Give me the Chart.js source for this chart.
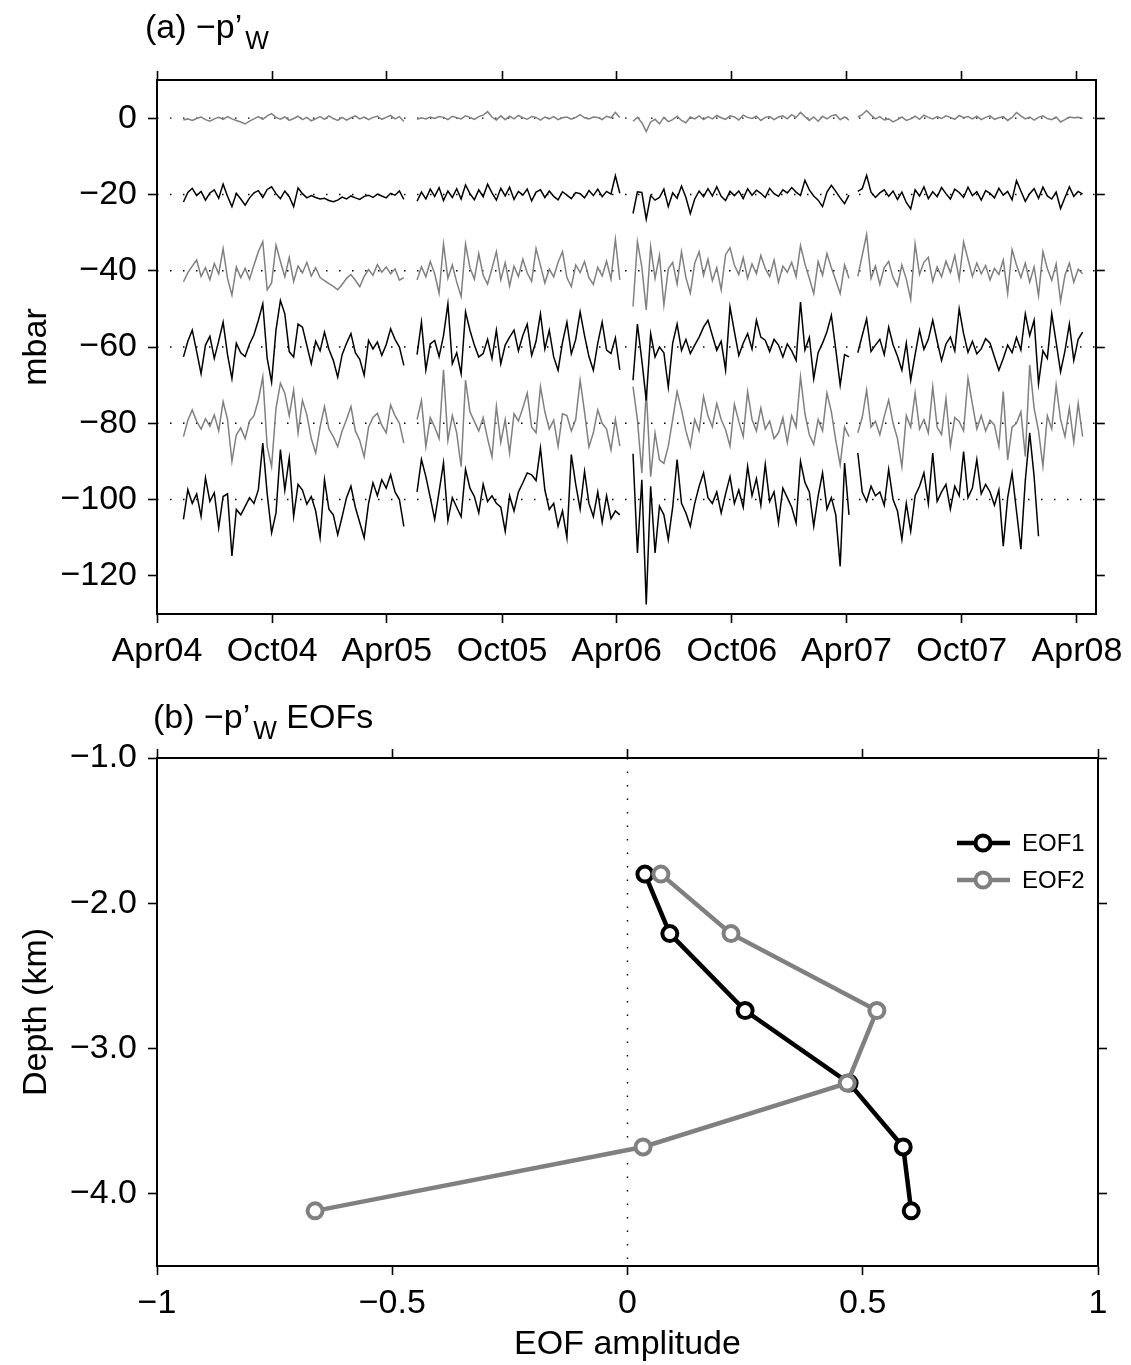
<!DOCTYPE html>
<html>
<head>
<meta charset="utf-8">
<script src="https://cdn.jsdelivr.net/npm/chart.js@4.4.1/dist/chart.umd.min.js"></script>
<style>
  body { margin: 0; background: #fff; width: 1131px; height: 1365px; position: relative; overflow: hidden; }
  canvas { position: absolute; left: 0; }
  #graficoSerieTemporal { top: 0; }
  #graficoEOF { top: 690px; }
</style>
</head>
<body>
<canvas id="graficoSerieTemporal" width="1131" height="690"></canvas>
<canvas id="graficoEOF" width="1131" height="675"></canvas>
<script>
//Dados do painel (a): dias desde 1 Apr 2004, amostragem semanal
const diaInicial = 42;
const passoDias = 7;
const diasMarcas = [0, 183, 365, 548, 730, 913, 1095, 1278, 1461];
const rotulosMeses = ['Apr04', 'Oct04', 'Apr05', 'Oct05', 'Apr06', 'Oct06', 'Apr07', 'Oct07', 'Apr08'];
const marcasMbar = [0, -20, -40, -60, -80, -100, -120];
const deslocamentos = [0, -20, -40, -60, -80, -100];

//Anomalias (mbar) de cada sensor, null = falha nos dados
const pressaoS1 = [
  -0.5,-0.2,-0.6,-0.1,0.3,-0.4,-0.8,-0.2,0.2,-0.3,
  0.4,-0.2,-0.6,-1.0,-1.5,-0.8,-0.2,0.4,-0.3,0.6,
  1.2,0.2,-0.3,0.3,-0.6,-0.1,0.5,-0.4,0.2,-0.7,
  -0.2,0.4,-0.3,0.6,-0.1,-0.6,0.2,-0.5,0.1,0.6,
  -0.2,0.3,-0.4,0.2,0.5,-0.3,0.2,0.7,-0.2,0.4,
  -0.9, null, null,
  -0.3,0.1,-0.2,0.3,-0.1,0.4,0.2,-0.4,0.5,0.1,
  -0.2,0.6,0.2,-0.3,0.4,0.8,1.7,0.3,-0.5,0.6,
  -0.4,0.5,-0.2,0.7,0.1,-0.3,0.4,0.2,-0.5,0.3,
  -0.2,0.4,-0.4,0.1,0.3,-0.3,0.2,0.9,0.1,-0.2,
  0.3,0.2,-0.4,0.5,0.1,1.5,0.2, null, null,
  -0.8,0.2,-1.2,-3.5,-1.0,-0.3,-1.5,0.2,-0.9,-0.4,
  0.5,-0.6,-1.2,0.3,-0.2,0.6,-0.4,0.4,-0.2,0.7,
  0.1,-0.3,0.6,0.3,-0.5,0.8,0.2,-0.1,0.5,-0.6,
  0.2,0.4,-0.4,0.3,0.6,-0.2,0.9,0.2,1.5,0.4,
  -0.6,0.3,-0.8,0.5,-0.2,0.6,0.9,-0.4,0.3,-0.5, null,
  0.3,0.9,2.0,0.8,-0.2,0.4,-0.5,-0.2,-1.0,-0.4,
  0.3,-0.6,-0.2,0.5,-0.3,0.8,0.2,-0.2,0.4,-0.1,
  0.6,0.2,-0.3,0.7,0.1,0.4,-0.2,0.5,-0.4,0.2,
  0.6,-0.3,0.1,0.4,-0.6,0.2,1.5,0.6,-0.2,0.3,
  -0.5,0.2,0.6,-0.1,-0.4,0.3,-1.0,-0.4,0.3,0.1,
  0.2,-0.1
];

const pressaoS2 = [
  -2.0,0.5,1.6,-0.3,0.8,-1.5,0.4,1.2,-1.0,2.7,
  -0.5,-3.2,0.3,-1.2,-2.8,-0.9,0.4,1.0,-0.8,1.3,
  2.0,0.2,-1.1,0.9,-0.6,-3.2,1.7,0.2,-0.9,-0.3,
  -0.8,-1.2,-1.0,-1.6,-1.9,-1.5,-0.7,-1.2,-0.4,-0.9,
  -1.3,-0.5,-0.2,-0.8,0.1,-0.4,-0.9,0.3,-0.2,0.9,
  -1.3, null, null,
  -1.8,0.6,-1.2,1.4,-0.5,1.8,-1.6,0.9,-0.8,1.5,
  -1.2,2.5,0.2,-1.4,1.2,-0.6,2.7,0.4,-1.5,1.6,
  -0.4,1.9,-1.3,0.8,-0.2,1.4,-1.7,0.6,1.2,-0.8,
  0.9,-0.5,-1.4,0.7,-0.2,-1.1,0.5,0.2,-0.9,1.0,
  -0.3,1.4,-0.6,0.8,0.1,4.9,0.3, null, null,
  -5.0,0.7,0.5,-6.5,-0.3,-1.5,-0.8,1.4,-3.2,0.4,
  -1.0,2.2,-0.8,-5.0,-1.2,0.9,-0.6,1.5,-0.4,2.0,
  -0.5,-1.6,0.8,-0.3,0.9,-1.1,1.5,-0.2,1.1,0.3,
  -0.8,1.6,0.2,-0.5,1.2,0.4,1.8,0.6,-0.3,3.7,
  1.2,-0.4,-1.5,-3.2,0.6,2.4,0.8,-0.9,-2.4,-0.2, null,
  0.8,1.5,5.0,0.6,-0.8,0.4,1.2,-0.5,0.9,-1.3,
  0.6,-2.1,-3.8,1.2,-0.4,2.0,-1.1,0.7,-0.6,1.8,
  0.2,-1.2,1.4,0.5,-0.8,1.9,-0.3,0.7,-1.5,1.0,
  0.3,-0.9,1.6,-0.2,0.8,-1.4,3.6,0.9,-1.8,0.2,
  1.5,-1.0,1.9,-0.4,-1.2,0.6,-3.7,-0.8,2.0,-0.5,
  0.8,0.1
];

const pressaoS3 = [
  -2.9,-0.5,1.2,2.8,-1.5,0.8,-2.4,1.9,-0.8,5.8,
  -2.0,-6.4,1.0,-1.8,0.6,-2.2,1.5,5.0,7.6,-5.0,
  -3.2,6.7,2.4,-1.6,3.5,-2.8,1.2,-0.6,2.2,-1.4,
  0.8,-1.8,-2.6,-3.4,-4.1,-5.0,-3.6,-2.0,-1.0,-2.5,
  -4.2,-1.5,0.3,-1.2,1.6,-0.4,1.0,-0.8,0.5,-2.5,
  -1.8, null, null,
  -2.4,1.0,-1.6,2.4,-0.8,-5.9,7.0,-2.0,1.5,-3.0,
  -6.8,7.0,0.8,-2.2,4.5,-1.2,-3.5,0.6,5.0,-2.4,
  2.1,-4.0,1.2,-1.5,3.0,-0.6,-2.8,5.8,1.4,-3.2,
  0.4,-1.6,2.2,5.0,-1.8,-4.2,1.5,-0.5,2.4,-1.8,
  -3.6,0.9,-1.4,2.5,-2.2,8.2,-2.4, null, null,
  -9.4,7.6,1.0,-10.3,6.3,-2.0,4.0,-9.0,0.5,2.2,
  -3.5,5.0,-1.8,-5.9,2.0,5.0,-1.2,3.0,-2.6,0.8,
  -5.0,4.2,6.0,1.5,-1.0,3.4,-2.0,1.8,-0.8,4.0,
  0.6,-1.5,2.8,-3.0,1.2,-0.4,2.2,-1.6,6.6,1.8,
  -2.0,-6.0,2.4,-1.2,4.5,0.8,-2.5,-6.0,1.5,-2.0, null,
  -1.5,4.0,9.5,-2.0,1.2,-3.6,0.8,2.4,-1.8,-4.0,
  1.5,-2.2,-7.5,7.0,-1.0,2.2,3.5,-2.8,1.0,-1.6,
  2.5,-0.5,4.0,-2.2,7.5,3.0,-1.5,2.0,-0.8,1.4,
  -2.4,0.6,-1.0,2.8,-6.0,5.5,1.5,-1.8,2.0,-3.0,
  1.0,-6.5,5.0,0.6,-2.5,1.8,-8.0,-1.2,2.0,-3.0,
  0.4,-0.8
];

const pressaoS4 = [
  -2.6,1.5,4.4,-1.2,-7.0,0.5,2.8,-3.0,1.6,6.5,
  -2.0,-8.3,1.0,-1.5,-2.5,0.8,3.2,7.0,11.3,-3.0,
  -9.2,4.5,12.2,8.7,-1.2,-2.6,6.0,5.2,0.4,-4.4,
  1.5,-1.0,3.9,-0.6,-3.5,-7.9,-2.0,1.0,3.5,-1.5,
  -3.2,-7.4,1.7,-0.5,1.3,-2.2,0.6,4.8,2.0,0.0,
  -4.8, null, null,
  -2.0,6.5,-6.0,0.8,1.7,-2.5,3.0,11.3,-4.4,-1.5,
  -7.0,9.2,4.4,0.5,-2.6,-1.7,2.0,-3.0,4.4,-4.4,
  0.5,2.6,4.4,-1.0,3.0,6.0,-2.2,1.5,8.7,-0.5,
  4.4,-2.6,-6.1,1.2,6.5,-1.8,2.0,9.2,3.0,-2.5,
  -6.1,1.0,6.5,-0.8,-1.7,2.4,-6.0, null, null,
  -8.7,6.0,-3.5,-14.0,3.5,-2.6,0.0,-1.5,-10.5,1.0,
  6.0,-0.9,2.0,-1.7,0.5,2.6,5.2,7.0,3.0,-0.9,
  1.5,-6.0,10.5,4.0,-2.2,1.0,3.5,-0.5,7.0,2.6,
  1.8,-1.2,2.0,0.5,-2.6,0.8,-1.0,-3.5,11.8,-0.8,
  2.5,-8.3,-1.5,1.0,4.0,8.3,-0.6,-10.0,-2.0,-2.6, null,
  -1.5,3.0,7.4,-1.2,0.5,2.0,-2.0,5.2,0.6,-2.4,
  -6.1,1.0,-8.7,-2.0,4.4,-0.6,2.0,7.0,1.5,-3.5,
  0.8,2.6,-1.0,10.0,3.5,-1.4,1.5,-1.8,-0.5,2.2,
  1.0,-2.6,-6.1,-3.0,0.5,-1.5,2.5,-0.8,8.7,3.0,
  7.0,-9.6,-1.0,-3.0,8.7,1.2,-6.5,-1.0,6.0,-3.5,
  2.0,3.9
];

const pressaoS5 = [
  -3.5,0.8,3.5,0.5,-1.5,1.2,-0.8,2.2,-2.0,5.7,
  1.0,-10.0,-3.0,-1.2,-4.0,0.6,2.0,6.1,12.2,-6.1,
  -11.4,4.0,10.5,7.9,2.0,8.7,-2.5,6.0,2.2,-4.0,
  -7.8,-1.0,4.4,-1.5,-3.5,-6.1,-2.0,1.0,4.4,-2.0,
  -4.5,-8.8,-1.0,1.5,2.6,-0.5,-2.5,4.8,2.0,0.0,
  -5.2, null, null,
  1.0,6.0,-6.2,1.5,-1.0,-4.0,14.0,-4.5,2.0,-2.5,
  -11.4,11.3,3.0,0.5,-2.0,1.5,-4.0,-8.8,4.4,-5.0,
  1.0,-7.8,2.5,0.6,4.0,7.9,-1.0,-2.5,9.6,3.0,
  -1.5,0.8,-6.1,2.5,2.0,-2.0,1.0,11.3,3.0,-6.2,
  -2.5,3.5,0.0,-1.5,-7.0,1.0,-6.0, null, null,
  9.6,0.9,-13.0,8.7,-14.0,-2.6,-9.6,-10.5,-6.0,1.0,
  8.3,3.5,-2.0,-6.1,1.0,-2.0,7.0,2.0,-0.9,5.2,
  1.0,-1.7,-6.0,5.0,0.5,-3.5,8.3,1.0,-2.0,4.0,
  -1.5,0.6,-4.0,-2.5,1.5,-5.0,2.0,-1.0,12.2,2.5,
  -3.0,-5.5,1.0,-2.0,7.9,3.0,-4.5,-10.9,-1.0,-3.5, null,
  -2.5,1.5,8.7,-1.0,0.5,-3.0,1.8,6.1,0.0,-4.0,
  -11.4,2.0,-1.0,7.9,-1.5,1.0,-2.5,9.6,-1.0,-3.0,
  6.5,-6.0,1.5,0.5,-2.0,11.8,5.0,-1.5,2.0,-2.0,
  0.8,-0.5,-6.1,8.3,-9.6,-1.0,0.0,3.0,-8.7,15.3,
  4.0,-2.0,-11.3,2.0,-1.5,10.0,1.0,-3.5,4.0,-5.0,
  5.2,-3.5
];

const pressaoS6 = [
  -5.2,2.6,-1.0,1.5,-4.4,5.7,-0.5,1.8,-7.4,0.8,
  1.5,-14.8,-2.6,-4.0,-1.8,0.5,-1.0,2.6,14.8,1.5,
  -8.7,-3.5,13.1,2.5,10.9,-4.4,4.0,2.5,-1.2,0.8,
  -3.0,-10.0,5.2,-2.5,-4.0,-9.2,-4.5,0.5,3.5,-2.0,
  -6.0,-10.0,-1.0,4.4,1.0,5.2,3.0,6.5,2.0,0.0,
  -7.0, null, null,
  2.0,10.5,6.0,0.5,-5.2,2.0,9.6,-5.5,0.5,-2.0,
  -4.5,7.9,3.0,0.8,-3.5,4.0,-0.5,1.0,-1.0,-2.0,
  -8.3,1.0,-3.0,2.0,4.4,7.0,6.5,5.0,13.5,2.5,
  -2.6,-1.0,-7.0,-3.0,-10.0,11.8,4.0,-2.5,7.4,-1.0,
  -4.5,2.0,-6.0,1.0,-5.0,-3.0,-4.0, null, null,
  12.0,-14.0,5.2,-27.5,3.5,-14.0,-1.7,-4.0,-10.5,-2.0,
  10.5,-1.0,-3.5,-7.0,-1.0,3.5,7.0,0.5,-1.0,2.0,
  -3.5,1.5,6.0,-1.0,2.5,-2.0,8.7,1.0,5.5,-1.5,
  9.2,-0.5,2.0,-6.1,3.0,0.5,-2.0,-6.1,10.0,4.5,
  2.0,-7.0,1.0,7.0,-2.5,0.5,-4.0,-17.5,9.6,-4.0, null,
  12.2,2.0,-0.5,3.5,1.0,2.0,-1.5,7.9,0.0,-3.0,
  -10.5,-1.0,-8.3,1.0,3.5,7.0,-1.0,12.2,-0.5,2.0,
  4.0,-2.5,3.5,1.0,12.6,0.5,3.0,10.5,1.5,4.0,
  2.0,-1.5,2.5,-12.2,0.5,7.0,-3.0,-13.0,5.0,17.5,
  6.0,-9.6
];

//Dados do painel (b)
const profundidades = [-1.80, -2.21, -2.74, -3.24, -3.68, -4.12];
const amplitudeEOF1 = [0.037, 0.090, 0.250, 0.471, 0.586, 0.603];
const amplitudeEOF2 = [0.071, 0.220, 0.530, 0.467, 0.033, -0.664];
const marcasAmplitude = [-1, -0.5, 0, 0.5, 1];
const marcasProfundidade = [-1, -2, -3, -4];

const familia = '"Liberation Sans", Arial, Helvetica, sans-serif';
const cinza = '#808080';
const fonteEixo = { family: familia, size: 34 };
const menos = (texto) => String(texto).replace('-', '\u2212');

function montaSerie(valores, deslocamento) {
    return valores.map((v, i) => ({ x: diaInicial + i * passoDias, y: v === null ? null : v + deslocamento }));
}

function desenhaTitulo(ctx, x, y, principal, resto) {
    ctx.save();
    ctx.fillStyle = '#000';
    ctx.textBaseline = 'alphabetic';
    ctx.textAlign = 'left';
    ctx.font = '34px ' + familia;
    ctx.fillText(principal, x, y);
    let px = x + ctx.measureText(principal).width + 3;
    ctx.font = '25px ' + familia;
    ctx.fillText('W', px, y + 11);
    px += ctx.measureText('W').width;
    if (resto) {
        ctx.font = '34px ' + familia;
        ctx.fillText(resto, px, y);
    }
    ctx.restore();
}

//Eixos espelhados (marcas nos quatro lados, para fora)
function eixo(posicao, min, max, marcas, tamanho, rotulos, extra) {
    const horizontal = posicao === 'top' || posicao === 'bottom';
    return Object.assign({
        type: 'linear',
        position: posicao,
        min: min,
        max: max,
        afterBuildTicks: (e) => { e.ticks = marcas.map(v => ({ value: v })); },
        afterFit: (e) => { if (horizontal) { e.height = tamanho; } else { e.width = tamanho; } },
        border: { display: true, color: '#000', width: 2 },
        grid: { drawOnChartArea: false, drawTicks: true, tickLength: 9, tickWidth: 1.6, tickColor: '#000' },
        ticks: rotulos ? {
            display: true, autoSkip: false, maxRotation: 0, color: '#000', font: fonteEixo,
            padding: horizontal ? 8 : 11, callback: rotulos
        } : { display: false }
    }, extra || {});
}

//Painel (a): series temporais
const conjuntosA = [];
deslocamentos.forEach((d, i) => {
    conjuntosA.push({
        data: [{ x: 0, y: d }, { x: 1491, y: d }],
        borderColor: '#000', borderWidth: 1.4, borderDash: [1.5, 11.5],
        pointRadius: 0, order: 10
    });
});
[pressaoS1, pressaoS2, pressaoS3, pressaoS4, pressaoS5, pressaoS6].forEach((serie, i) => {
    conjuntosA.push({
        data: montaSerie(serie, deslocamentos[i]),
        borderColor: i % 2 === 0 ? cinza : '#000',
        borderWidth: 1.5, pointRadius: 0, spanGaps: false, tension: 0, order: 1
    });
});

const graficoSerieTemporal = new Chart(document.getElementById('graficoSerieTemporal'), {
    type: 'line',
    data: { datasets: conjuntosA },
    options: {
        responsive: false, animation: false, parsing: true,
        layout: { padding: 0 },
        plugins: { legend: { display: false }, tooltip: { enabled: false } },
        scales: {
            x: eixo('bottom', 0, 1491, diasMarcas, 76, (v) => rotulosMeses[diasMarcas.indexOf(v)]),
            x2: eixo('top', 0, 1491, diasMarcas, 80, null),
            y: eixo('left', -130, 10, marcasMbar, 157, (v) => menos(v), {
                title: { display: true, text: 'mbar', color: '#000', font: fonteEixo, padding: { top: 16, bottom: 0 } }
            }),
            y2: eixo('right', -130, 10, marcasMbar, 33, null)
        }
    },
    plugins: [{
        id: 'tituloA',
        afterDraw: (grafico) => desenhaTitulo(grafico.ctx, 145, 38, '(a) \u2212p\u2019', null)
    }]
});

//Painel (b): perfis das EOFs
const graficoEOF = new Chart(document.getElementById('graficoEOF'), {
    type: 'line',
    data: {
        datasets: [{
            data: [{ x: 0, y: -1 }, { x: 0, y: -4.5 }],
            borderColor: '#000', borderWidth: 1.4, borderDash: [1.5, 12],
            pointRadius: 0, order: 10
        }, {
            label: 'EOF1',
            data: profundidades.map((p, i) => ({ x: amplitudeEOF1[i], y: p })),
            borderColor: '#000', borderWidth: 4.5,
            pointRadius: 7.5, pointBorderWidth: 4, pointBackgroundColor: '#fff', pointBorderColor: '#000',
            order: 2
        }, {
            label: 'EOF2',
            data: profundidades.map((p, i) => ({ x: amplitudeEOF2[i], y: p })),
            borderColor: cinza, borderWidth: 4.5,
            pointRadius: 7.5, pointBorderWidth: 4, pointBackgroundColor: '#fff', pointBorderColor: cinza,
            order: 1
        }]
    },
    options: {
        responsive: false, animation: false,
        layout: { padding: 0 },
        plugins: { legend: { display: false }, tooltip: { enabled: false } },
        scales: {
            x: eixo('bottom', -1, 1, marcasAmplitude, 99, (v) => menos(v), {
                title: { display: true, text: 'EOF amplitude', color: '#000', font: fonteEixo, padding: { top: 0, bottom: 0 } }
            }),
            x2: eixo('top', -1, 1, marcasAmplitude, 68, null),
            y: eixo('left', -4.5, -1, marcasProfundidade, 157, (v) => menos(v.toFixed(1)), {
                title: { display: true, text: 'Depth (km)', color: '#000', font: fonteEixo, padding: { top: 16, bottom: 0 } }
            }),
            y2: eixo('right', -4.5, -1, marcasProfundidade, 33, null)
        }
    },
    plugins: [{
        id: 'tituloLegendaB',
        afterDraw: (grafico) => {
            const ctx = grafico.ctx;
            desenhaTitulo(ctx, 153, 38, '(b) \u2212p\u2019', ' EOFs');
            //Legenda desenhada dentro da area do grafico
            [['EOF1', '#000', 153], ['EOF2', cinza, 190]].forEach(([texto, cor, y]) => {
                ctx.save();
                ctx.strokeStyle = cor;
                ctx.lineWidth = 4.5;
                ctx.beginPath();
                ctx.moveTo(957, y);
                ctx.lineTo(1010, y);
                ctx.stroke();
                ctx.fillStyle = '#fff';
                ctx.lineWidth = 4;
                ctx.beginPath();
                ctx.arc(983, y, 7.5, 0, Math.PI * 2);
                ctx.fill();
                ctx.stroke();
                ctx.fillStyle = '#000';
                ctx.font = '24px ' + familia;
                ctx.textBaseline = 'middle';
                ctx.fillText(texto, 1022, y + 1);
                ctx.restore();
            });
        }
    }]
});
</script>
</body>
</html>
